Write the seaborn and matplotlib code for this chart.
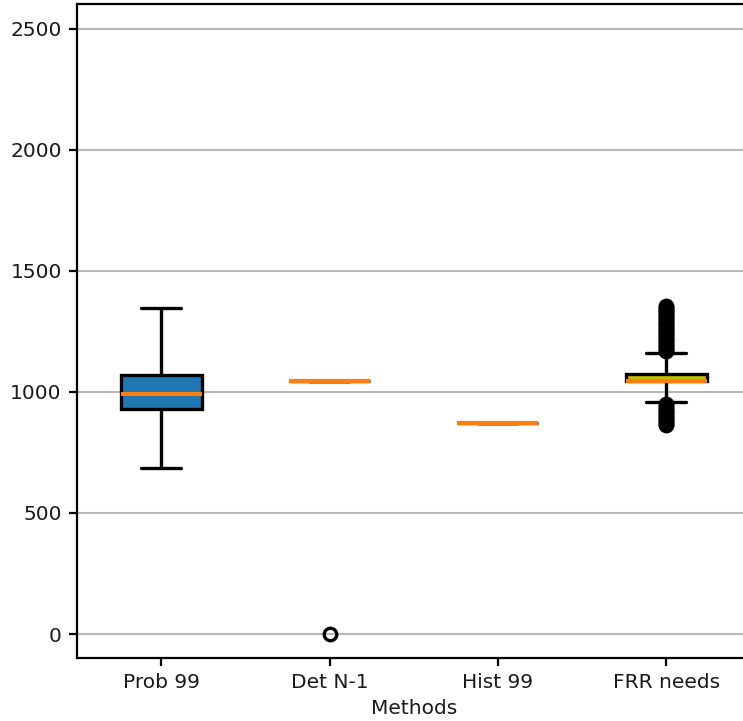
import numpy as np
import pandas as pd
import matplotlib
matplotlib.use("Agg")
import matplotlib.pyplot as plt
import seaborn as sns

# Reserve sizing results per method (MW)
methods = ["Prob 99", "Det N-1", "Hist 99", "FRR needs"]

prob_99 = [686, 720, 780, 840, 890, 930, 945, 958, 970, 982, 992,
           1005, 1020, 1035, 1052, 1070, 1110, 1160, 1220, 1280, 1345]

det_n1_values = [1045, 0]
det_n1_counts = [20, 1]

hist_99_values = [872]
hist_99_counts = [20]

frr_values = [862, 868, 875, 882, 890, 897, 905, 912, 920, 927, 935, 942, 950,
              958, 980, 1000, 1020, 1045, 1060, 1074,
              1100, 1120, 1140, 1161,
              1167, 1174, 1181, 1188, 1195, 1202, 1209, 1216, 1223, 1230,
              1237, 1244, 1251, 1258, 1265, 1272, 1279, 1286, 1293, 1300,
              1307, 1314, 1321, 1328, 1335, 1342, 1349, 1355]
frr_counts = [1, 1, 1, 1, 1, 1, 1, 1, 1, 1, 1, 1, 1,
              1, 1, 1, 1, 80, 10, 40,
              1, 1, 1, 1,
              1, 1, 1, 1, 1, 1, 1, 1, 1, 1,
              1, 1, 1, 1, 1, 1, 1, 1, 1, 1,
              1, 1, 1, 1, 1, 1, 1, 1]

box_colors = ["#1f77b4", "#1f77b4", "#1f77b4", "#bfbf00"]

groups = [
    np.array(prob_99, dtype=float),
    np.repeat(det_n1_values, det_n1_counts).astype(float),
    np.repeat(hist_99_values, hist_99_counts).astype(float),
    np.repeat(frr_values, frr_counts).astype(float),
]
df = pd.concat(
    [pd.DataFrame({"Methods": m, "Value": g}) for m, g in zip(methods, groups)],
    ignore_index=True,
)

sns.set_style("white")
plt.rcParams["font.family"] = ["DejaVu Sans"]

fig = plt.figure(figsize=(7.43, 7.21), dpi=100)
ax = fig.add_axes([0.1036, 0.088, 0.8964 + 0.01, 0.906])

sns.boxplot(
    data=df, x="Methods", y="Value", hue="Methods",
    order=methods, hue_order=methods,
    palette=dict(zip(methods, box_colors)), saturation=1,
    width=0.48, whis=3.0, linecolor="black", linewidth=2.4,
    medianprops=dict(color="#ff7f0e", linewidth=3.0),
    flierprops=dict(marker="o", markerfacecolor="none",
                    markeredgecolor="black", markersize=9,
                    markeredgewidth=2.4),
    legend=False, ax=ax,
)

ax.set_ylim(-97, 2600)
ax.set_xlim(-0.5, 3.5)
ax.set_yticks([0, 500, 1000, 1500, 2000, 2500])
ax.set_axisbelow(True)
ax.yaxis.grid(True, color="#b8b8b8", linewidth=1.5)
ax.xaxis.grid(False)

for side in ["left", "bottom", "top"]:
    ax.spines[side].set_color("black")
    ax.spines[side].set_linewidth(1.6)
ax.spines["right"].set_visible(False)

ax.tick_params(axis="both", which="both", length=6, width=1.6,
               color="black", labelsize=14.5, labelcolor="#1a1a1a",
               left=True, bottom=True, pad=5)
ax.set_xlabel("Methods", fontsize=14.5, color="#1a1a1a", labelpad=5)
ax.set_ylabel("")

fig.savefig("out.png", dpi=100)
